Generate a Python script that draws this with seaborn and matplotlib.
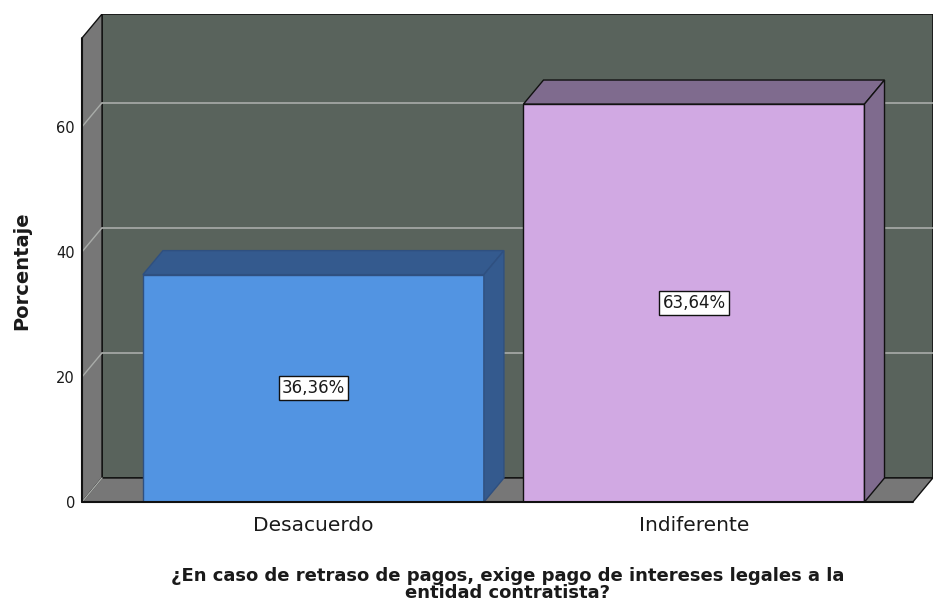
import numpy as np
import pandas as pd
import seaborn as sns
import matplotlib.pyplot as plt
from matplotlib.patches import Polygon, Rectangle

# Data
categories = ["Desacuerdo", "Indiferente"]
percentages = [36.36, 63.64]
value_labels = ["36,36%", "63,64%"]
y_ticks = [0, 20, 40, 60]

front_colors = ["#5294e2", "#d1a9e3"]
shade_colors = ["#345a8e", "#7f6b8e"]
edge_colors = ["#2f5080", "#111111"]

df = pd.DataFrame({"cat": categories, "pct": percentages})

sns.set_theme(style="white")
plt.rcParams['font.family'] = ['DejaVu Sans']

fig = plt.figure(figsize=(9.33, 6.06), dpi=100)
ax = fig.add_axes([82 / 933, 104 / 606, 851 / 933, 488 / 606])

# 3D box geometry (data units)
x0, x1 = -0.608, 1.575
zmax = 74.2
dx, dy = 0.0526, 3.84
ax.set_xlim(x0, 1.628)
ax.set_ylim(0, zmax + dy)

wall = "#59635c"
side = "#777777"
grid = "#a9aca9"

# back wall
ax.add_patch(Rectangle((x0 + dx, dy), x1 - x0, zmax, facecolor=wall,
                       edgecolor="#111111", lw=1.2, zorder=0))
# left wall
ax.add_patch(Polygon([(x0, 0), (x0 + dx, dy), (x0 + dx, zmax + dy), (x0, zmax)],
                     closed=True, facecolor=side, edgecolor="#111111", lw=1.0, zorder=0.5))
# floor
ax.add_patch(Polygon([(x0, 0), (x1, 0), (x1 + dx, dy), (x0 + dx, dy)],
                     closed=True, facecolor=side, edgecolor="#111111", lw=1.0, zorder=0.5))
# gridlines on walls
for v in y_ticks[1:]:
    ax.plot([x0 + dx, x1 + dx], [v + dy, v + dy], color=grid, lw=1.2, zorder=0.6)
    ax.plot([x0, x0 + dx], [v, v + dy], color=grid, lw=1.0, zorder=0.6)
ax.plot([x0, x0 + dx], [0, dy], color=grid, lw=1.0, zorder=0.6)

# front faces of the bars
sns.barplot(data=df, x="cat", y="pct", hue="cat", palette=front_colors, saturation=1,
            width=0.896, legend=False, ax=ax, zorder=3)
ax.set_xlim(x0, 1.628)
ax.set_ylim(0, zmax + dy)

for i, bar in enumerate(ax.patches[-2:]):
    bx, bw, h = bar.get_x(), bar.get_width(), bar.get_height()
    bar.set_edgecolor(edge_colors[i])
    bar.set_linewidth(1.0)
    top = Polygon([(bx, h), (bx + dx, h + dy), (bx + bw + dx, h + dy), (bx + bw, h)],
                  closed=True, facecolor=shade_colors[i], edgecolor=edge_colors[i], lw=1.0, zorder=3)
    rside = Polygon([(bx + bw, 0), (bx + bw + dx, dy), (bx + bw + dx, h + dy), (bx + bw, h)],
                    closed=True, facecolor=shade_colors[i], edgecolor=edge_colors[i], lw=1.0, zorder=3)
    ax.add_patch(top)
    ax.add_patch(rside)
    ax.text(bx + bw / 2, h / 2, value_labels[i], ha="center", va="center", fontsize=12,
            color="#1a1a1a", zorder=5,
            bbox=dict(boxstyle="square,pad=0.18", facecolor="white", edgecolor="#111111", lw=1.0))

# front axis lines
ax.plot([x0, x0], [0, zmax], color="#111111", lw=1.5, zorder=4, clip_on=False)
ax.plot([x0, x1], [0, 0], color="#111111", lw=1.5, zorder=4, clip_on=False)

for s in ax.spines.values():
    s.set_visible(False)
ax.set_yticks(y_ticks)
ax.set_yticklabels([str(t) for t in y_ticks], fontsize=10.5, color="#1a1a1a")
ax.tick_params(axis="y", length=0, pad=5)
ax.tick_params(axis="x", length=0, pad=10, labelsize=14.5, labelcolor="#1a1a1a")
ax.set_ylabel("Porcentaje", fontsize=14, fontweight="bold", color="#1a1a1a")
ax.yaxis.set_label_coords(-0.060, 0.473)
ax.set_xlabel("¿En caso de retraso de pagos, exige pago de intereses legales a la\nentidad contratista?",
              fontsize=13, fontweight="bold", labelpad=23, linespacing=0.95, color="#1a1a1a")
ax.grid(False)

fig.savefig("out.png", dpi=100)
